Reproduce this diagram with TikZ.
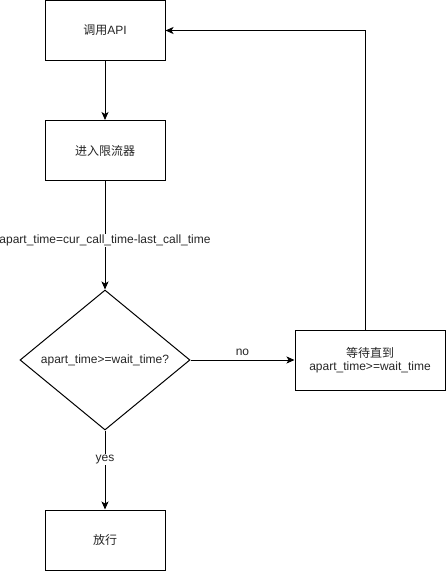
\documentclass[tikz,border=0pt]{standalone}
\usepackage{fontspec}
\setmainfont{Liberation Sans}
\newfontfamily\cjk{Noto Sans CJK SC}
\usetikzlibrary{arrows.meta,shapes.geometric}
\begin{document}
\begin{tikzpicture}[x=1pt,y=-1pt,
  every node/.style={font=\fontsize{12}{14}\selectfont, text=black!85},
  proc/.style={draw=black, line width=1pt, minimum width=120pt, minimum height=60pt, inner sep=0pt},
  dec/.style={draw=black, line width=1pt, diamond, aspect=1.2143, minimum width=170pt, minimum height=140pt, inner sep=0pt},
  wait/.style={draw=black, line width=1pt, minimum width=150pt, minimum height=60pt, inner sep=0pt, align=center},
  conn/.style={draw=black, line width=1pt, -{Stealth[length=8pt,width=7pt,inset=2pt]}},
  lbl/.style={fill=white, inner sep=1pt}
]
\useasboundingbox (0,0) rectangle (446,571);
\node[proc] (api) at (105,30.5) {{\cjk 调用}API};
\node[proc] (lim) at (105,150.5) {{\cjk 进入限流器}};
\node[dec] (chk) at (105,360) {apart\_time>=wait\_time?};
\node[wait] (wt) at (370,360) {{\cjk 等待直到}\\[-1pt]apart\_time>=wait\_time};
\node[proc] (go) at (105,540) {{\cjk 放行}};
\coordinate (up) at (365,30.5);
\draw[conn] (api) -- (lim);
\draw[conn] (lim) -- node[lbl, pos=0.55] {apart\_time=cur\_call\_time-last\_call\_time} (chk);
\draw[conn] (chk) -- node[lbl, above=3pt, fill=none] {no} (wt);
\draw[conn] (chk) -- node[lbl, pos=0.37] {yes} (go);
\draw[conn] (wt.north -| up) -- (up) -- (api);
\end{tikzpicture}
\end{document}
